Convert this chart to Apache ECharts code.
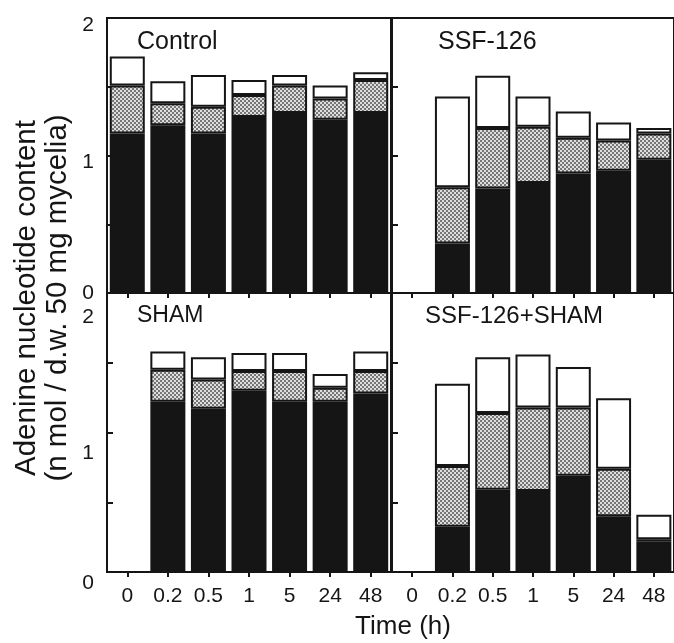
<!DOCTYPE html>
<html>
<head>
<meta charset="utf-8">
<script src="https://cdn.jsdelivr.net/npm/echarts@6/dist/echarts.min.js"></script>
<style>
html,body{margin:0;padding:0;background:#fff;}
#chart{width:674px;height:643px;}
</style>
</head>
<body>
<div id="chart"></div>
<script>
// ---- data ----
const categories = ['0', '0.2', '0.5', '1', '5', '24', '48'];
const yTickLabels = [0, 1, 2];
const panelTitles = ['Control', 'SSF-126', 'SHAM', 'SSF-126+SHAM'];

// stacked components: black (bottom), stippled (middle), white (top)
const controlBlack = [1.16, 1.22, 1.16, 1.28, 1.31, 1.26, 1.31];
const controlGray  = [0.35, 0.16, 0.195, 0.16, 0.20, 0.155, 0.24];
const controlWhite = [0.21, 0.16, 0.23, 0.11, 0.075, 0.095, 0.055];

const ssfBlack = [null, 0.36, 0.76, 0.80, 0.87, 0.89, 0.97];
const ssfGray  = [null, 0.41, 0.44, 0.41, 0.26, 0.22, 0.19];
const ssfWhite = [null, 0.66, 0.38, 0.22, 0.19, 0.13, 0.04];

const shamBlack = [null, 1.22, 1.17, 1.30, 1.22, 1.22, 1.28];
const shamGray  = [null, 0.23, 0.21, 0.14, 0.22, 0.10, 0.16];
const shamWhite = [null, 0.13, 0.16, 0.13, 0.13, 0.10, 0.14];

const bothBlack = [null, 0.325, 0.59, 0.58, 0.69, 0.40, 0.22];
const bothGray  = [null, 0.435, 0.55, 0.60, 0.49, 0.34, 0.015];
const bothWhite = [null, 0.59, 0.40, 0.38, 0.29, 0.505, 0.175];

const yTitle = 'Adenine nucleotide content\n(n mol / d.w. 50 mg mycelia)';
const xTitle = 'Time (h)';

// ---- build ----
const FONT = '"Liberation Sans", Arial, Helvetica, sans-serif';
const INK = '#151515';

// stipple pattern
const pc = document.createElement('canvas');
pc.width = 4; pc.height = 4;
const pctx = pc.getContext('2d');
pctx.fillStyle = '#dedede'; pctx.fillRect(0, 0, 4, 4);
pctx.fillStyle = '#767676';
pctx.fillRect(0, 0, 2, 2); pctx.fillRect(2, 2, 2, 2);
const stipple = { image: pc, repeat: 'repeat' };

const grids = [
  { left: 107, top: 18, width: 284, height: 275 },
  { left: 392, top: 18, width: 284, height: 275 },
  { left: 107, top: 293, width: 284, height: 279 },
  { left: 392, top: 293, width: 284, height: 279 }
].map(g => Object.assign(g, { show: true, borderColor: INK, borderWidth: 2, backgroundColor: 'transparent' }));

// per-label vertical shifts (reproducing the reference label placement)
const labelShift = [
  { 0: 0, 1: 7, 2: 7 },
  null,
  { 0: 11, 1: 21, 2: 24 },
  null
];
const rich = {};
[0, 7, 11, 21, 24].forEach(s => {
  rich['s' + s] = { fontSize: 21, lineHeight: 22, fontFamily: FONT, color: INK, padding: [2 * s, 0, 0, 0] };
});

const xAxes = [], yAxes = [];
for (let i = 0; i < 4; i++) {
  const bottom = i >= 2;
  xAxes.push({
    type: 'category', gridIndex: i, data: categories,
    axisLine: { show: true, lineStyle: { color: INK, width: 2 } },
    axisTick: { show: true, alignWithLabel: true, inside: false, length: 5, lineStyle: { color: INK, width: 2 } },
    axisLabel: { show: bottom, fontSize: 21, fontFamily: FONT, color: INK, margin: 14, interval: 0 },
    splitLine: { show: false }
  });
  const left = (i % 2 === 0);
  const shifts = labelShift[i];
  yAxes.push({
    type: 'value', gridIndex: i, min: 0, max: 2, interval: 0.5,
    axisLine: { show: true, lineStyle: { color: INK, width: 2 } },
    axisTick: { show: true, inside: true, length: 6, lineStyle: { color: INK, width: 2 } },
    splitLine: { show: false },
    axisLabel: {
      show: left, margin: 13, fontSize: 21, fontFamily: FONT, color: INK,
      formatter: function (v) {
        if (!left || yTickLabels.indexOf(v) < 0) return '';
        return '{s' + shifts[v] + '|' + v + '}';
      },
      rich: rich
    }
  });
}

const panels = [
  [controlBlack, controlGray, controlWhite],
  [ssfBlack, ssfGray, ssfWhite],
  [shamBlack, shamGray, shamWhite],
  [bothBlack, bothGray, bothWhite]
];
const fills = [INK, stipple, '#ffffff'];
const names = ['black', 'stippled', 'white'];
const series = [];
panels.forEach((p, i) => {
  p.forEach((arr, k) => {
    series.push({
      type: 'bar', name: names[k], xAxisIndex: i, yAxisIndex: i,
      stack: 'p' + i, data: arr, barWidth: 35,
      itemStyle: { color: fills[k], borderColor: INK, borderWidth: 2 },
      emphasis: { disabled: true }, animation: false
    });
  });
});

const titles = [
  { text: panelTitles[0], left: 137, top: 30, size: 25 },
  { text: panelTitles[1], left: 438, top: 30, size: 25 },
  { text: panelTitles[2], left: 137, top: 304, size: 23 },
  { text: panelTitles[3], left: 425, top: 304, size: 24 }
].map(t => ({ text: t.text, left: t.left, top: t.top, padding: 0,
  textStyle: { fontSize: t.size, fontWeight: 'normal', fontFamily: FONT, color: INK } }));

const chart = echarts.init(document.getElementById('chart'), null, { renderer: 'canvas' });
chart.setOption({
  backgroundColor: '#ffffff',
  animation: false,
  title: titles,
  grid: grids,
  xAxis: xAxes,
  yAxis: yAxes,
  series: series,
  graphic: [
    { type: 'text', x: 42, y: 298, rotation: Math.PI / 2,
      style: { text: yTitle, fontSize: 29.5, lineHeight: 31, fontFamily: FONT, fill: INK, align: 'center', verticalAlign: 'middle' } },
    { type: 'text', x: 403, y: 627,
      style: { text: xTitle, fontSize: 26, fontFamily: FONT, fill: INK, align: 'center', verticalAlign: 'middle' } }
  ]
});
</script>
</body>
</html>
